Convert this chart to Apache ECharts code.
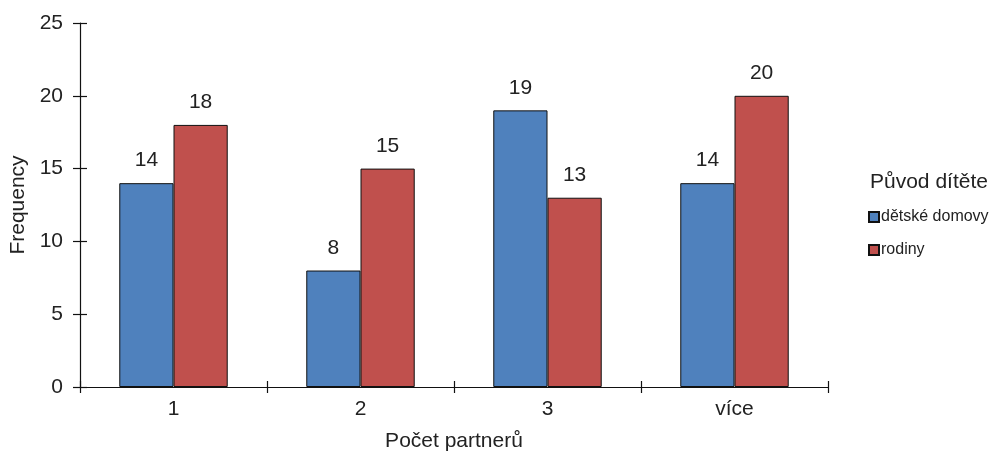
<!DOCTYPE html>
<html><head><meta charset="utf-8">
<script src="https://cdn.jsdelivr.net/npm/echarts@6/dist/echarts.min.js"></script>
<style>html,body{margin:0;padding:0;background:#fff}#c{width:1002px;height:455px}</style>
</head><body><div id="c"></div>
<script>
const categories = ['1', '2', '3', 'více'];
const detskeDomovy = [14, 8, 19, 14];
const rodiny = [18, 15, 13, 20];
const yTicks = [0, 5, 10, 15, 20, 25];
const seriesNames = ['dětské domovy', 'rodiny'];
const legendTitle = 'Původ dítěte';

const font = 'Liberation Sans, Arial, sans-serif';
const chart = echarts.init(document.getElementById('c'));
const lineStyle = {color: '#111', width: 1.2};
chart.setOption({
  animation: false,
  grid: {left: 80, top: 23, right: 174, bottom: 68, outerBoundsMode: 'none', containLabel: false},
  title: {text: legendTitle, left: 865, top: 167, textStyle: {fontFamily: font, fontSize: 21, fontWeight: 'normal', color: '#222'}},
  legend: {
    orient: 'vertical', left: 863, top: 204, itemGap: 17, itemWidth: 10, itemHeight: 10, icon: 'rect',
    data: seriesNames,
    textStyle: {fontFamily: font, fontSize: 16, color: '#222', padding: [0, 0, 0, -3]}
  },
  xAxis: [{
    type: 'category', data: categories,
    axisLine: {lineStyle}, axisTick: {show: true, length: 6, lineStyle},
    axisLabel: {fontFamily: font, fontSize: 21, color: '#222', margin: 12},
    name: 'Počet partnerů', nameLocation: 'middle', nameGap: 44,
    nameTextStyle: {fontFamily: font, fontSize: 21, color: '#222'}
  }, {
    type: 'category', data: categories, position: 'bottom',
    axisLine: {show: false}, axisTick: {show: true, inside: true, length: 6, lineStyle},
    axisLabel: {show: false}
  }],
  yAxis: [{
    type: 'value', min: yTicks[0], max: yTicks[yTicks.length - 1], interval: 5,
    axisLine: {show: true, lineStyle}, axisTick: {show: true, length: 7, lineStyle},
    splitLine: {show: false},
    axisLabel: {fontFamily: font, fontSize: 21, color: '#222', margin: 17},
    name: 'Frequency', nameLocation: 'middle', nameGap: 51, nameRotate: 90,
    nameTextStyle: {fontFamily: font, fontSize: 21, color: '#222'}
  }, {
    type: 'value', min: yTicks[0], max: yTicks[yTicks.length - 1], interval: 5, position: 'left',
    axisLine: {show: false}, axisTick: {show: true, inside: true, length: 7, lineStyle},
    splitLine: {show: false}, axisLabel: {show: false}
  }],
  series: [
    {name: seriesNames[0], type: 'bar', data: detskeDomovy, barGap: '0%', barCategoryGap: '42%',
     itemStyle: {color: '#4F81BD', borderColor: '#111', borderWidth: 1},
     label: {show: true, position: 'top', distance: 12, fontFamily: font, fontSize: 21, color: '#222'}},
    {name: seriesNames[1], type: 'bar', data: rodiny, barGap: '0%', barCategoryGap: '42%',
     itemStyle: {color: '#C0504D', borderColor: '#111', borderWidth: 1},
     label: {show: true, position: 'top', distance: 12, fontFamily: font, fontSize: 21, color: '#222'}}
  ]
});
</script></body></html>
